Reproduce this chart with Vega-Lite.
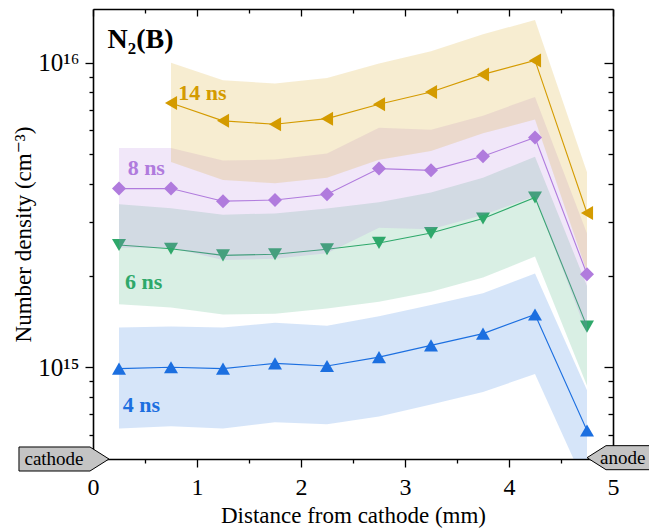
{
  "$schema": "https://vega.github.io/schema/vega-lite/v6.json",
  "width": 520,
  "height": 450,
  "autosize": {"type": "none"},
  "padding": {"left": 93, "top": 9, "right": 36, "bottom": 70},
  "background": "white",
  "config": {
    "view": {"stroke": null},
    "font": "Times New Roman, Liberation Serif, DejaVu Serif, serif",
    "text": {"font": "Times New Roman, Liberation Serif, DejaVu Serif, serif"},
    "axis": {
      "labelFont": "Times New Roman, Liberation Serif, DejaVu Serif, serif",
      "titleFont": "Times New Roman, Liberation Serif, DejaVu Serif, serif",
      "labelFontSize": 23,
      "titleFontSize": 23,
      "titleFontWeight": "normal",
      "domainColor": "black",
      "domainWidth": 1.6,
      "tickColor": "black",
      "tickWidth": 1.3,
      "labelColor": "black",
      "titleColor": "black",
      "grid": false,
      "labelFlush": false,
      "labelOverlap": false,
      "labelBound": false
    }
  },
  "datasets": {
    "series": [
      {"t": "4 ns", "x": 0.25, "n": 9.9e14, "lo": 6.3e14, "hi": 1.35e15},
      {"t": "4 ns", "x": 0.75, "n": 1.0e15, "lo": 6.4e14, "hi": 1.36e15},
      {"t": "4 ns", "x": 1.25, "n": 9.9e14, "lo": 6.3e14, "hi": 1.35e15},
      {"t": "4 ns", "x": 1.75, "n": 1.03e15, "lo": 6.6e14, "hi": 1.40e15},
      {"t": "4 ns", "x": 2.25, "n": 1.01e15, "lo": 6.5e14, "hi": 1.37e15},
      {"t": "4 ns", "x": 2.75, "n": 1.08e15, "lo": 6.9e14, "hi": 1.47e15},
      {"t": "4 ns", "x": 3.25, "n": 1.18e15, "lo": 7.55e14, "hi": 1.60e15},
      {"t": "4 ns", "x": 3.75, "n": 1.29e15, "lo": 8.3e14, "hi": 1.75e15},
      {"t": "4 ns", "x": 4.25, "n": 1.49e15, "lo": 9.5e14, "hi": 2.03e15},
      {"t": "4 ns", "x": 4.75, "n": 6.2e14, "lo": 4.0e14, "hi": 8.4e14},
      {"t": "6 ns", "x": 0.25, "n": 2.52e15, "lo": 1.61e15, "hi": 3.43e15},
      {"t": "6 ns", "x": 0.75, "n": 2.45e15, "lo": 1.57e15, "hi": 3.33e15},
      {"t": "6 ns", "x": 1.25, "n": 2.33e15, "lo": 1.49e15, "hi": 3.17e15},
      {"t": "6 ns", "x": 1.75, "n": 2.35e15, "lo": 1.50e15, "hi": 3.20e15},
      {"t": "6 ns", "x": 2.25, "n": 2.44e15, "lo": 1.56e15, "hi": 3.32e15},
      {"t": "6 ns", "x": 2.75, "n": 2.56e15, "lo": 1.64e15, "hi": 3.48e15},
      {"t": "6 ns", "x": 3.25, "n": 2.76e15, "lo": 1.77e15, "hi": 3.75e15},
      {"t": "6 ns", "x": 3.75, "n": 3.08e15, "lo": 1.97e15, "hi": 4.19e15},
      {"t": "6 ns", "x": 4.25, "n": 3.61e15, "lo": 2.31e15, "hi": 4.91e15},
      {"t": "6 ns", "x": 4.75, "n": 1.36e15, "lo": 8.7e14, "hi": 1.85e15},
      {"t": "8 ns", "x": 0.25, "n": 3.86e15, "lo": 2.47e15, "hi": 5.25e15},
      {"t": "8 ns", "x": 0.75, "n": 3.86e15, "lo": 2.47e15, "hi": 5.25e15},
      {"t": "8 ns", "x": 1.25, "n": 3.51e15, "lo": 2.25e15, "hi": 4.77e15},
      {"t": "8 ns", "x": 1.75, "n": 3.54e15, "lo": 2.27e15, "hi": 4.81e15},
      {"t": "8 ns", "x": 2.25, "n": 3.70e15, "lo": 2.37e15, "hi": 5.03e15},
      {"t": "8 ns", "x": 2.75, "n": 4.49e15, "lo": 2.87e15, "hi": 6.11e15},
      {"t": "8 ns", "x": 3.25, "n": 4.43e15, "lo": 2.84e15, "hi": 6.02e15},
      {"t": "8 ns", "x": 3.75, "n": 4.93e15, "lo": 3.16e15, "hi": 6.70e15},
      {"t": "8 ns", "x": 4.25, "n": 5.68e15, "lo": 3.64e15, "hi": 7.72e15},
      {"t": "8 ns", "x": 4.75, "n": 2.02e15, "lo": 1.29e15, "hi": 2.75e15},
      {"t": "14 ns", "x": 0.75, "n": 7.37e15, "lo": 4.72e15, "hi": 1.0e16},
      {"t": "14 ns", "x": 1.25, "n": 6.44e15, "lo": 4.12e15, "hi": 8.76e15},
      {"t": "14 ns", "x": 1.75, "n": 6.28e15, "lo": 4.02e15, "hi": 8.54e15},
      {"t": "14 ns", "x": 2.25, "n": 6.55e15, "lo": 4.19e15, "hi": 8.91e15},
      {"t": "14 ns", "x": 2.75, "n": 7.30e15, "lo": 4.80e15, "hi": 9.93e15},
      {"t": "14 ns", "x": 3.25, "n": 8.01e15, "lo": 5.13e15, "hi": 1.09e16},
      {"t": "14 ns", "x": 3.75, "n": 9.15e15, "lo": 5.86e15, "hi": 1.24e16},
      {"t": "14 ns", "x": 4.25, "n": 1.017e16, "lo": 6.51e15, "hi": 1.38e16},
      {"t": "14 ns", "x": 4.75, "n": 3.21e15, "lo": 2.05e15, "hi": 4.37e15}
    ],
    "labels": [
      {"t": "14 ns", "x": 0.82, "y": 7.96e15},
      {"t": "8 ns", "x": 0.333, "y": 4.52e15},
      {"t": "6 ns", "x": 0.308, "y": 1.9e15},
      {"t": "4 ns", "x": 0.285, "y": 7.5e14}
    ],
    "title": [
      {"label": "N₂(B)", "x": 0.14, "y": 1.19e16}
    ],
    "ends": [
      {"label": "cathode", "x": -0.279, "y": 5e14},
      {"label": "anode", "x": 5.183, "y": 5.05e14}
    ]
  },
  "layer": [
    {
      "data": {"name": "series"},
      "transform": [{"filter": {"field": "t", "oneOf": ["4 ns", "6 ns"]}}],
      "mark": {"type": "area", "opacity": 0.18, "clip": true},
      "encoding": {
        "x": {
          "field": "x", "type": "quantitative",
          "scale": {"domain": [0, 5], "nice": false, "zero": false},
          "axis": {
            "orient": "bottom",
            "values": [0, 0.5, 1, 1.5, 2, 2.5, 3, 3.5, 4, 4.5, 5],
            "labelExpr": "datum.value % 1 === 0 ? '' + datum.value : ''",
            "tickSize": {"condition": {"test": "datum.value % 1 === 0", "value": 8}, "value": 4},
            "labelFontSize": 24,
            "labelPadding": 8,
            "title": "Distance from cathode (mm)",
            "titlePadding": 5
          }
        },
        "y": {
          "field": "lo", "type": "quantitative",
          "scale": {"type": "log", "domain": [5e14, 1.5e16], "nice": false},
          "axis": {
            "orient": "left",
            "values": [5e14, 6e14, 7e14, 8e14, 9e14, 1e15, 2e15, 3e15, 4e15, 5e15, 6e15, 7e15, 8e15, 9e15, 1e16],
            "labelExpr": "datum.value === 1e15 ? '10¹⁵' : (datum.value === 1e16 ? '10¹⁶' : '')",
            "tickSize": {"condition": {"test": "datum.value === 1e15 || datum.value === 1e16", "value": 8}, "value": 4},
            "labelFontSize": 25,
            "labelPadding": 6,
            "title": "Number density (cm⁻³)",
            "titlePadding": 2
          }
        },
        "y2": {"field": "hi"},
        "color": {
          "field": "t", "type": "nominal",
          "scale": {"domain": ["4 ns", "6 ns", "8 ns", "14 ns"], "range": ["#1C6FE0", "#2EA86A", "#B07BDD", "#D49B00"]},
          "legend": null
        }
      }
    },
    {
      "data": {"name": "series"},
      "transform": [{"filter": {"field": "t", "oneOf": ["4 ns", "6 ns"]}}],
      "mark": {"type": "line", "strokeWidth": 1.1},
      "encoding": {
        "x": {
          "field": "x", "type": "quantitative",
          "axis": {
            "orient": "top",
            "values": [0, 0.5, 1, 1.5, 2, 2.5, 3, 3.5, 4, 4.5, 5],
            "labels": false,
            "tickSize": {"condition": {"test": "datum.value % 1 === 0", "value": -7}, "value": -4},
            "title": null
          }
        },
        "y": {
          "field": "n", "type": "quantitative",
          "axis": {
            "orient": "right",
            "values": [5e14, 6e14, 7e14, 8e14, 9e14, 1e15, 2e15, 3e15, 4e15, 5e15, 6e15, 7e15, 8e15, 9e15, 1e16],
            "labels": false,
            "tickSize": {"condition": {"test": "datum.value === 1e15 || datum.value === 1e16", "value": -9}, "value": -5},
            "title": null
          }
        },
        "color": {"field": "t", "type": "nominal", "legend": null}
      }
    },
    {
      "data": {"name": "series"},
      "transform": [{"filter": {"field": "t", "oneOf": ["4 ns", "6 ns"]}}],
      "mark": {"type": "point", "filled": true, "opacity": 1, "size": 196},
      "encoding": {
        "x": {"field": "x", "type": "quantitative", "axis": null},
        "y": {"field": "n", "type": "quantitative", "axis": null},
        "color": {"field": "t", "type": "nominal", "legend": null},
        "shape": {
          "field": "t", "type": "nominal",
          "scale": {"domain": ["4 ns", "6 ns", "8 ns", "14 ns"], "range": ["triangle-up", "triangle-down", "diamond", "triangle-left"]},
          "legend": null
        }
      }
    },
    {
      "data": {"name": "series"},
      "transform": [{"filter": {"field": "t", "oneOf": ["8 ns", "14 ns"]}}],
      "mark": {"type": "area", "opacity": 0.18, "clip": true},
      "encoding": {
        "x": {"field": "x", "type": "quantitative", "axis": null},
        "y": {"field": "lo", "type": "quantitative", "axis": null},
        "y2": {"field": "hi"},
        "color": {"field": "t", "type": "nominal", "legend": null}
      }
    },
    {
      "data": {"name": "series"},
      "transform": [{"filter": {"field": "t", "oneOf": ["8 ns", "14 ns"]}}],
      "mark": {"type": "line", "strokeWidth": 1.1},
      "encoding": {
        "x": {"field": "x", "type": "quantitative", "axis": null},
        "y": {"field": "n", "type": "quantitative", "axis": null},
        "color": {"field": "t", "type": "nominal", "legend": null}
      }
    },
    {
      "data": {"name": "series"},
      "transform": [{"filter": {"field": "t", "oneOf": ["8 ns", "14 ns"]}}],
      "mark": {"type": "point", "filled": true, "opacity": 1, "size": 196},
      "encoding": {
        "x": {"field": "x", "type": "quantitative", "axis": null},
        "y": {"field": "n", "type": "quantitative", "axis": null},
        "color": {"field": "t", "type": "nominal", "legend": null},
        "shape": {"field": "t", "type": "nominal", "legend": null}
      }
    },
    {
      "data": {"name": "labels"},
      "mark": {"type": "text", "align": "left", "baseline": "middle", "fontSize": 22, "fontWeight": "bold"},
      "encoding": {
        "x": {"field": "x", "type": "quantitative", "axis": null},
        "y": {"field": "y", "type": "quantitative", "axis": null},
        "text": {"field": "t"},
        "color": {"field": "t", "type": "nominal", "legend": null}
      }
    },
    {
      "data": {"name": "title"},
      "mark": {"type": "text", "align": "left", "baseline": "middle", "fontSize": 28, "fontWeight": "bold", "color": "black"},
      "encoding": {
        "x": {"field": "x", "type": "quantitative", "axis": null},
        "y": {"field": "y", "type": "quantitative", "axis": null},
        "text": {"field": "label"}
      }
    },
    {
      "data": {"name": "ends"},
      "transform": [{"filter": "datum.label === 'cathode'"}],
      "mark": {"type": "point", "shape": "M-1,-0.267L0.578,-0.267L1,0L0.578,0.267L-1,0.267Z", "filled": true, "fill": "#C4C4C4", "stroke": "black", "strokeWidth": 1, "opacity": 1, "size": 8100},
      "encoding": {
        "x": {"field": "x", "type": "quantitative", "axis": null},
        "y": {"field": "y", "type": "quantitative", "axis": null}
      }
    },
    {
      "data": {"name": "ends"},
      "transform": [{"filter": "datum.label === 'anode'"}],
      "mark": {"type": "point", "shape": "M1,-0.267L-0.578,-0.267L-1,0L-0.578,0.267L1,0.267Z", "filled": true, "fill": "#C4C4C4", "stroke": "black", "strokeWidth": 1, "opacity": 1, "size": 8100},
      "encoding": {
        "x": {"field": "x", "type": "quantitative", "axis": null},
        "y": {"field": "y", "type": "quantitative", "axis": null}
      }
    },
    {
      "data": {"name": "ends"},
      "transform": [{"filter": "datum.label === 'cathode'"}],
      "mark": {"type": "text", "align": "center", "baseline": "middle", "fontSize": 19, "color": "black", "dx": -10},
      "encoding": {
        "x": {"field": "x", "type": "quantitative", "axis": null},
        "y": {"field": "y", "type": "quantitative", "axis": null},
        "text": {"field": "label"}
      }
    },
    {
      "data": {"name": "ends"},
      "transform": [{"filter": "datum.label === 'anode'"}],
      "mark": {"type": "text", "align": "left", "baseline": "middle", "fontSize": 19, "color": "black", "dx": -32},
      "encoding": {
        "x": {"field": "x", "type": "quantitative", "axis": null},
        "y": {"field": "y", "type": "quantitative", "axis": null},
        "text": {"field": "label"}
      }
    }
  ],
  "resolve": {"axis": {"x": "independent", "y": "independent"}}
}
